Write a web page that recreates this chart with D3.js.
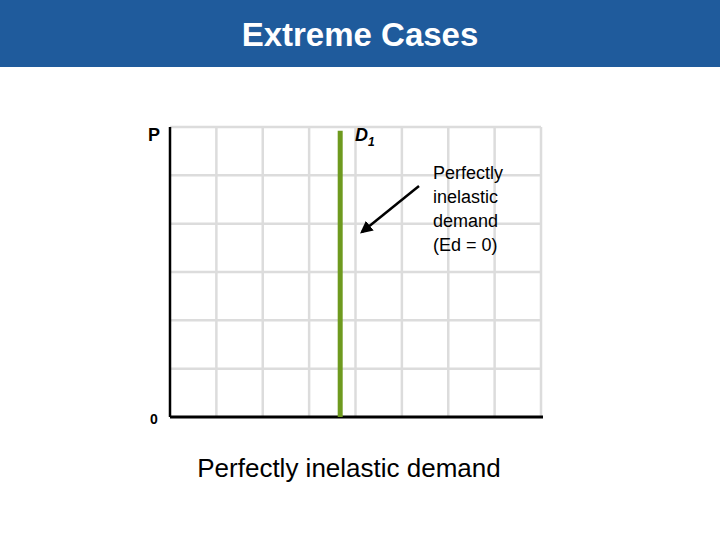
<!DOCTYPE html>
<html><head><meta charset="utf-8">
<script src="https://cdn.jsdelivr.net/npm/d3@7"></script>
<style>body{margin:0;background:#fff}</style>
</head><body>
<svg id="chart" width="720" height="540"></svg>
<script>
var xTicks = [0, 1, 2, 3, 4, 5, 6, 7, 8];
var yTicks = [0, 1, 2, 3, 4, 5, 6];
var demandQ = 3.67;       // quantity where D1 stands
var demandP = [0, 5.92];  // price range of D1
var labelLines = ["Perfectly", "inelastic", "demand", "(Ed = 0)"];

var svg = d3.select("#chart");
var x = d3.scaleLinear().domain([0, 8]).range([170, 541]);
var y = d3.scaleLinear().domain([0, 6]).range([417, 127]);

// title banner
svg.append("rect").attr("x", 0).attr("y", 0).attr("width", 720).attr("height", 67).attr("fill", "#1f5b9c");
svg.append("text").attr("x", 360).attr("y", 46).attr("text-anchor", "middle")
   .attr("font-family", "Liberation Sans, Arial, sans-serif").attr("font-weight", "bold")
   .attr("font-size", 33).attr("fill", "#fff").text("Extreme Cases");

// grid
svg.append("g").selectAll("line").data(xTicks.slice(1)).enter().append("line")
   .attr("x1", d => x(d)).attr("x2", d => x(d)).attr("y1", y(6)).attr("y2", y(0))
   .attr("stroke", "#dcdcdc").attr("stroke-width", 2.5);
svg.append("g").selectAll("line").data(yTicks.slice(1)).enter().append("line")
   .attr("x1", x(0)).attr("x2", x(8)).attr("y1", d => y(d)).attr("y2", d => y(d))
   .attr("stroke", "#dcdcdc").attr("stroke-width", 2.5);

// axes
svg.append("line").attr("x1", x(0)).attr("x2", x(0)).attr("y1", y(6)).attr("y2", y(0))
   .attr("stroke", "#000").attr("stroke-width", 2.5);
svg.append("line").attr("x1", x(0)).attr("x2", x(8) + 2).attr("y1", y(0)).attr("y2", y(0))
   .attr("stroke", "#000").attr("stroke-width", 3);

// demand curve
svg.append("line").attr("x1", x(demandQ)).attr("x2", x(demandQ))
   .attr("y1", y(demandP[0])).attr("y2", y(demandP[1]))
   .attr("stroke", "#6e9a1e").attr("stroke-width", 5);

var font = "Liberation Sans, Arial, sans-serif";
svg.append("text").attr("x", 148).attr("y", 141).attr("font-family", font).attr("font-weight", "bold")
   .attr("font-size", 18).text("P");
svg.append("text").attr("x", 150).attr("y", 424).attr("font-family", font).attr("font-weight", "bold")
   .attr("font-size", 14).text("0");
var d1 = svg.append("text").attr("x", 355).attr("y", 141).attr("font-family", font).attr("font-weight", "bold")
   .attr("font-style", "italic").attr("font-size", 18).text("D");
d1.append("tspan").attr("dy", 5).attr("font-size", 12).text("1");

// annotation
svg.append("defs").append("marker").attr("id", "ah").attr("viewBox", "0 0 10 10")
   .attr("refX", 8).attr("refY", 5).attr("markerWidth", 5).attr("markerHeight", 5)
   .attr("orient", "auto").append("path").attr("d", "M0,0L10,5L0,10z").attr("fill", "#000");
svg.append("line").attr("x1", 419).attr("y1", 186).attr("x2", 362).attr("y2", 232)
   .attr("stroke", "#000").attr("stroke-width", 2.5).attr("marker-end", "url(#ah)");
svg.append("g").selectAll("text").data(labelLines).enter().append("text")
   .attr("x", 433).attr("y", (d, i) => 179 + i * 24)
   .attr("font-family", font).attr("font-size", 18).text(d => d);

svg.append("text").attr("x", 349).attr("y", 477).attr("text-anchor", "middle")
   .attr("font-family", font).attr("font-size", 26).text("Perfectly inelastic demand");
</script>
</body></html>
